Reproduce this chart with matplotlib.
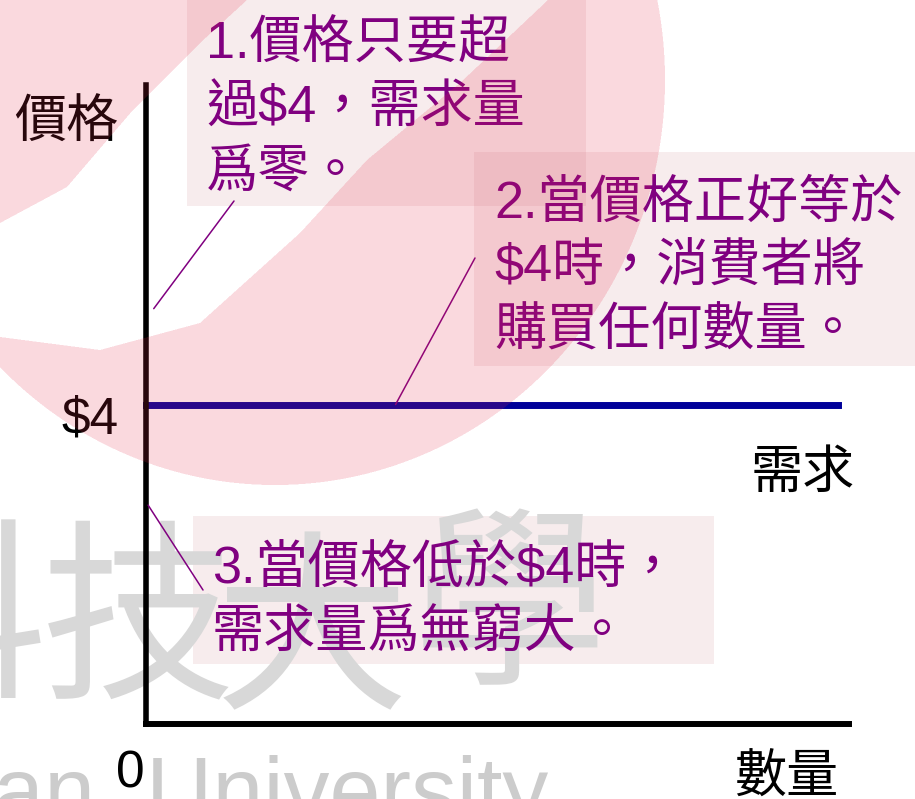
import numpy as np
import matplotlib.pyplot as plt
from matplotlib.patches import Rectangle

W, H = 915, 799

# perfectly elastic demand at $4
demand_price = 4
demand_qty = [0, 9.85]
price_max = 8
qty_max = 10

price_label = "價格"
qty_label = "數量"
curve_label = "需求"

note1_lines = ["1.價格只要超", "過$4，需求量", "爲零。"]
note2_lines = ["2.當價格正好等於", "$4時，消費者將", "購買任何數量。"]
note3_lines = ["3.當價格低於$4時，", "需求量爲無窮大。"]

# (quantity, price) each note points at
note1_target = (0.11, 5.2)
note2_target = (3.55, demand_price)
note3_target = (0.03, 2.74)

mark_chars = "科技大學"
mark_text = "Taiwan  University"

CJK = ["Liberation Sans", "Noto Sans CJK TC"]
PURPLE = "#800080"

fig = plt.figure(figsize=(W / 100, H / 100), dpi=100)

# background layer in pixel units
bg = fig.add_axes([0, 0, 1, 1], zorder=0)
bg.set_xlim(0, W)
bg.set_ylim(H, 0)
bg.axis("off")

for ch, cx, cy in zip(mark_chars, [-50, 138, 312, 510], [628, 628, 640, 615]):
    bg.text(cx, cy, ch, ha="center", va="center", fontsize=140,
            family="Noto Sans CJK TC", fontweight="light", color="#d8d8d8")
bg.text(548, 822, mark_text, ha="right", va="baseline", fontsize=66,
        family="Liberation Sans", color="#cccccc")

box_fc = (216 / 255, 160 / 255, 165 / 255, 0.2)
for x0, y0, x1, y1 in [(187, -10, 586, 206), (474, 152, 925, 366), (193, 516, 714, 664)]:
    bg.add_patch(Rectangle((x0, y0), x1 - x0, y1 - y0, facecolor=box_fc, edgecolor="none"))

for lines, x, y0 in [(note1_lines, 206, 59), (note2_lines, 494, 218), (note3_lines, 212, 584)]:
    for i, line in enumerate(lines):
        bg.text(x, y0 + 64 * i, line, ha="left", va="baseline", fontsize=37.5,
                family=CJK, fontweight="light", color=PURPLE)

for label, x, y in [(price_label, 14, 138), (curve_label, 751, 488), (qty_label, 734, 793)]:
    bg.text(x, y, label, ha="left", va="baseline", fontsize=37.5, family=CJK,
            fontweight="light", color="black")

# chart layer
ax = fig.add_axes([146 / W, (H - 724) / H, 703 / W, 639 / H], zorder=1)
ax.patch.set_alpha(0)
ax.set_xlim(0, qty_max)
ax.set_ylim(0, price_max)
ax.spines["top"].set_visible(False)
ax.spines["right"].set_visible(False)
ax.spines["left"].set_linewidth(4)
ax.spines["bottom"].set_linewidth(4.3)
for s in ("left", "bottom"):
    ax.spines[s].set_capstyle("projecting")
ax.set_xticks([])
ax.set_yticks([])

ax.plot(demand_qty, [demand_price] * len(demand_qty), color="#000099", lw=5,
        solid_capstyle="projecting", clip_on=False)

ax.annotate(f"${demand_price}", xy=(0, demand_price), xytext=(-20, -21),
            textcoords="offset points", ha="right", va="baseline",
            fontsize=37, family="Liberation Sans")
ax.annotate("0", xy=(0, 0), xytext=(-11.5, -45.5), textcoords="offset points",
            ha="center", va="baseline", fontsize=37, family="Liberation Sans")

# callout lines from the notes
for target, (px, py) in [(note1_target, (234, 201)), (note2_target, (475, 258)),
                         (note3_target, (203, 590))]:
    ax.annotate("", xy=target, xytext=(px, H - py), textcoords="figure pixels",
                arrowprops=dict(arrowstyle="-", color=PURPLE, lw=1.1,
                                shrinkA=0, shrinkB=0),
                annotation_clip=False)

# translucent pink swoosh on top
ss = 2
xs = (np.arange(W * ss) + 0.5) / ss
ys = (np.arange(H * ss) + 0.5) / ss
upper = np.interp(xs, [0, 67, 133, 200, 247, 400], [223, 187, 110, 43, 0, -200])
lower = np.interp(xs, [0, 100, 200, 300, 367, 460, 548, 700],
                  [337, 350, 323, 233, 160, 83, 0, -150])
X, Y = np.meshgrid(xs, ys)
inside = ((X - 275) / 390) ** 2 + ((Y - 80) / 405) ** 2 <= 1
band = (Y > upper[None, :]) & (Y < lower[None, :])
mask = (inside & ~band).reshape(H, ss, W, ss).mean(axis=(1, 3))

rgba = np.zeros((H, W, 4))
rgba[..., 0] = 230 / 255
rgba[..., 1] = 40 / 255
rgba[..., 2] = 70 / 255
rgba[..., 3] = 0.18 * mask

top = fig.add_axes([0, 0, 1, 1], zorder=2)
top.set_xlim(0, W)
top.set_ylim(H, 0)
top.axis("off")
top.patch.set_alpha(0)
top.imshow(rgba, extent=(0, W, H, 0), interpolation="nearest", aspect="auto")

fig.savefig("out.png", dpi=100)
